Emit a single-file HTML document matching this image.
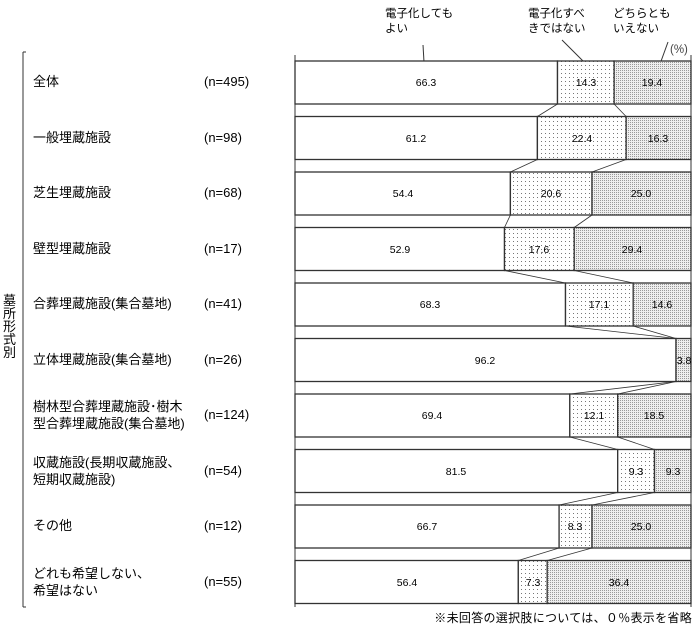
<!DOCTYPE html>
<html><head><meta charset="utf-8"><style>
body{margin:0;background:#fff}
svg{display:block;font-family:"Liberation Sans","Noto Sans CJK JP",sans-serif}
</style></head><body>
<svg width="700" height="628" viewBox="0 0 700 628">
<defs>
<pattern id="p1" width="4" height="4" patternUnits="userSpaceOnUse"><rect width="4" height="4" fill="#fff"/><rect x="1" y="1" width="1" height="1" fill="#777"/></pattern>
<pattern id="p2" width="2" height="2" patternUnits="userSpaceOnUse"><rect width="2" height="2" fill="#eee"/><rect x="0" y="0" width="1" height="1" fill="#999"/></pattern>
</defs>
<g font-size="11.5" fill="#000">
<text x="385" y="17">電子化しても</text><text x="385" y="32">よい</text>
<text x="528" y="17">電子化すべ</text><text x="528" y="32">きではない</text>
<text x="613" y="17">どちらとも</text><text x="613" y="32">いえない</text>
<text x="670" y="53" fill="#444">(%)</text>
</g>
<g stroke="#333" stroke-width="1" fill="none">
<line x1="423" y1="45" x2="424" y2="62"/>
<line x1="562" y1="40" x2="591" y2="69"/>
<line x1="668" y1="42" x2="660" y2="64"/>
<line x1="23" y1="52" x2="23" y2="607"/><line x1="23" y1="52" x2="26" y2="52"/><line x1="23" y1="607" x2="26" y2="607"/>
<line x1="295" y1="55" x2="295" y2="607"/>
<line x1="691" y1="55" x2="691" y2="607"/>
</g>
<g stroke="#333" stroke-width="1.3">
<rect x="295" y="61" width="262.5" height="43" fill="#fff"/><rect x="557.5" y="61" width="56.6" height="43" fill="url(#p1)"/><rect x="614.1" y="61" width="76.9" height="43" fill="url(#p2)"/>
<rect x="295" y="116.5" width="242.4" height="43" fill="#fff"/><rect x="537.4" y="116.5" width="88.7" height="43" fill="url(#p1)"/><rect x="626.1" y="116.5" width="64.9" height="43" fill="url(#p2)"/>
<rect x="295" y="172" width="215.4" height="43" fill="#fff"/><rect x="510.4" y="172" width="81.6" height="43" fill="url(#p1)"/><rect x="592" y="172" width="99" height="43" fill="url(#p2)"/>
<rect x="295" y="227.5" width="209.5" height="43" fill="#fff"/><rect x="504.5" y="227.5" width="69.7" height="43" fill="url(#p1)"/><rect x="574.2" y="227.5" width="116.8" height="43" fill="url(#p2)"/>
<rect x="295" y="283" width="270.5" height="43" fill="#fff"/><rect x="565.5" y="283" width="67.7" height="43" fill="url(#p1)"/><rect x="633.2" y="283" width="57.8" height="43" fill="url(#p2)"/>
<rect x="295" y="338.5" width="381" height="43" fill="#fff"/><rect x="676" y="338.5" width="15" height="43" fill="url(#p2)"/>
<rect x="295" y="394" width="274.8" height="43" fill="#fff"/><rect x="569.8" y="394" width="47.9" height="43" fill="url(#p1)"/><rect x="617.7" y="394" width="73.3" height="43" fill="url(#p2)"/>
<rect x="295" y="449.5" width="322.7" height="43" fill="#fff"/><rect x="617.7" y="449.5" width="36.8" height="43" fill="url(#p1)"/><rect x="654.5" y="449.5" width="36.5" height="43" fill="url(#p2)"/>
<rect x="295" y="505" width="264.1" height="43" fill="#fff"/><rect x="559.1" y="505" width="32.9" height="43" fill="url(#p1)"/><rect x="592" y="505" width="99" height="43" fill="url(#p2)"/>
<rect x="295" y="560.5" width="223.3" height="43" fill="#fff"/><rect x="518.3" y="560.5" width="28.9" height="43" fill="url(#p1)"/><rect x="547.2" y="560.5" width="143.8" height="43" fill="url(#p2)"/>
</g>
<g stroke="#333" stroke-width="0.8">
<line x1="557.5" y1="104" x2="537.4" y2="116.5"/><line x1="614.1" y1="104" x2="626.1" y2="116.5"/>
<line x1="537.4" y1="159.5" x2="510.4" y2="172"/><line x1="626.1" y1="159.5" x2="592" y2="172"/>
<line x1="510.4" y1="215" x2="504.5" y2="227.5"/><line x1="592" y1="215" x2="574.2" y2="227.5"/>
<line x1="504.5" y1="270.5" x2="565.5" y2="283"/><line x1="574.2" y1="270.5" x2="633.2" y2="283"/>
<line x1="565.5" y1="326" x2="676" y2="338.5"/><line x1="633.2" y1="326" x2="676" y2="338.5"/>
<line x1="676" y1="381.5" x2="569.8" y2="394"/><line x1="676" y1="381.5" x2="617.7" y2="394"/>
<line x1="569.8" y1="437" x2="617.7" y2="449.5"/><line x1="617.7" y1="437" x2="654.5" y2="449.5"/>
<line x1="617.7" y1="492.5" x2="559.1" y2="505"/><line x1="654.5" y1="492.5" x2="592" y2="505"/>
<line x1="559.1" y1="548" x2="518.3" y2="560.5"/><line x1="592" y1="548" x2="547.2" y2="560.5"/>
</g>
<g font-size="10.5" text-anchor="middle" fill="#000">
<text x="426" y="86">66.3</text><text x="586" y="86">14.3</text><text x="652" y="86">19.4</text>
<text x="416" y="142">61.2</text><text x="582" y="142">22.4</text><text x="658" y="142">16.3</text>
<text x="403" y="197">54.4</text><text x="551" y="197">20.6</text><text x="641" y="197">25.0</text>
<text x="400" y="253">52.9</text><text x="539" y="253">17.6</text><text x="632" y="253">29.4</text>
<text x="430" y="308">68.3</text><text x="599" y="308">17.1</text><text x="662" y="308">14.6</text>
<text x="485" y="364">96.2</text><text x="684" y="364">3.8</text>
<text x="432" y="419">69.4</text><text x="594" y="419">12.1</text><text x="654" y="419">18.5</text>
<text x="456" y="475">81.5</text><text x="636" y="475">9.3</text><text x="673" y="475">9.3</text>
<text x="427" y="530">66.7</text><text x="575" y="530">8.3</text><text x="641" y="530">25.0</text>
<text x="407" y="586">56.4</text><text x="533" y="586">7.3</text><text x="619" y="586">36.4</text>
</g>
<g font-size="13" fill="#000">
<text x="33" y="86">全体</text><text x="204" y="86">(n=495)</text>
<text x="33" y="142">一般埋蔵施設</text><text x="204" y="142">(n=98)</text>
<text x="33" y="197">芝生埋蔵施設</text><text x="204" y="197">(n=68)</text>
<text x="33" y="253">壁型埋蔵施設</text><text x="204" y="253">(n=17)</text>
<text x="33" y="308">合葬埋蔵施設(集合墓地)</text><text x="204" y="308">(n=41)</text>
<text x="33" y="364">立体埋蔵施設(集合墓地)</text><text x="204" y="364">(n=26)</text>
<text x="33" y="411">樹林型合葬埋蔵施設･樹木</text><text x="33" y="428">型合葬埋蔵施設(集合墓地)</text><text x="204" y="419">(n=124)</text>
<text x="33" y="467">収蔵施設(長期収蔵施設、</text><text x="33" y="484">短期収蔵施設)</text><text x="204" y="475">(n=54)</text>
<text x="33" y="530">その他</text><text x="204" y="530">(n=12)</text>
<text x="33" y="578">どれも希望しない、</text><text x="33" y="595">希望はない</text><text x="204" y="586">(n=55)</text>
<text x="3" y="305">墓</text><text x="3" y="318">所</text><text x="3" y="331">形</text><text x="3" y="344">式</text><text x="3" y="357">別</text>
</g>
<text x="692" y="622" font-size="12" letter-spacing="0.3" text-anchor="end" fill="#000">※未回答の選択肢については、０％表示を省略</text>
</svg>
</body></html>
